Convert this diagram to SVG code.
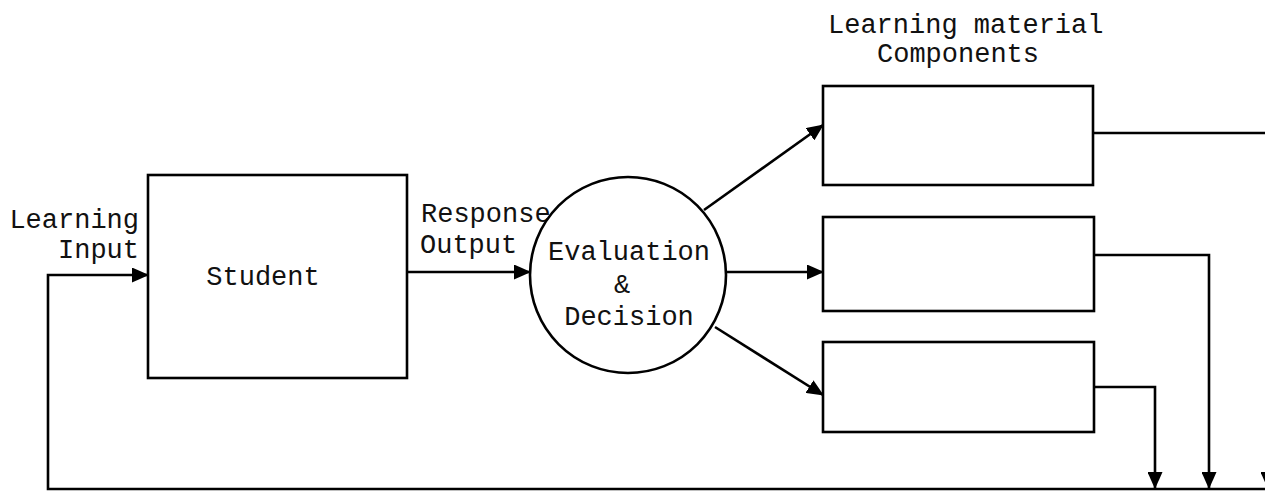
<svg xmlns="http://www.w3.org/2000/svg" width="1265" height="494" viewBox="0 0 1265 494">
  <style>
    .box { fill: #ffffff; stroke: #000000; stroke-width: 2.6; }
    .ln { fill: none; stroke: #000000; stroke-width: 2.6; }
    .t { font-family: "Liberation Mono", "DejaVu Sans Mono", monospace; font-size: 27px; fill: #111111; }
  </style>
  <defs>
    <marker id="arr" markerUnits="userSpaceOnUse" markerWidth="17" markerHeight="15" refX="16" refY="7.5" orient="auto">
      <path d="M0,0 L17,7.5 L0,15 z" fill="#000000"/>
    </marker>
  </defs>
  <rect width="1265" height="494" fill="#ffffff"/>

  <g id="connectors">
    <!-- feedback loop into Student -->
    <polyline class="ln" points="1265,489 48,489 48,275 148,275" marker-end="url(#arr)"/>
    <!-- Student to Evaluation -->
    <line class="ln" x1="407" y1="272" x2="530" y2="272" marker-end="url(#arr)"/>
    <!-- Evaluation to components -->
    <line class="ln" x1="704" y1="210" x2="823" y2="125" marker-end="url(#arr)"/>
    <line class="ln" x1="727" y1="272" x2="823" y2="272" marker-end="url(#arr)"/>
    <line class="ln" x1="715" y1="327" x2="823" y2="395" marker-end="url(#arr)"/>
    <!-- components back to feedback line -->
    <polyline class="ln" points="1093,133 1268,133 1268,488" marker-end="url(#arr)"/>
    <polyline class="ln" points="1094,255 1209,255 1209,488" marker-end="url(#arr)"/>
    <polyline class="ln" points="1094,387 1155,387 1155,488" marker-end="url(#arr)"/>
  </g>

  <g id="label-learning-input">
    <text class="t" x="139" y="228" text-anchor="end">Learning</text>
    <text class="t" x="139" y="258" text-anchor="end">Input</text>
  </g>

  <g id="node-student">
    <rect class="box" x="148" y="175" width="259" height="203"/>
    <text class="t" x="263" y="285" text-anchor="middle">Student</text>
  </g>

  <g id="label-response-output">
    <text class="t" x="421" y="222">Response</text>
    <text class="t" x="420" y="253">Output</text>
  </g>

  <g id="node-evaluation">
    <circle class="box" cx="628" cy="275" r="98"/>
    <text class="t" x="629" y="260" text-anchor="middle">Evaluation</text>
    <text class="t" x="622" y="293" text-anchor="middle">&amp;</text>
    <text class="t" x="629" y="325" text-anchor="middle">Decision</text>
  </g>

  <g id="label-components">
    <text class="t" x="828" y="33">Learning material</text>
    <text class="t" x="877" y="62">Components</text>
  </g>

  <g id="node-component-1">
    <rect class="box" x="823" y="86" width="270" height="99"/>
  </g>
  <g id="node-component-2">
    <rect class="box" x="823" y="217" width="271" height="94"/>
  </g>
  <g id="node-component-3">
    <rect class="box" x="823" y="342" width="271" height="90"/>
  </g>
</svg>
